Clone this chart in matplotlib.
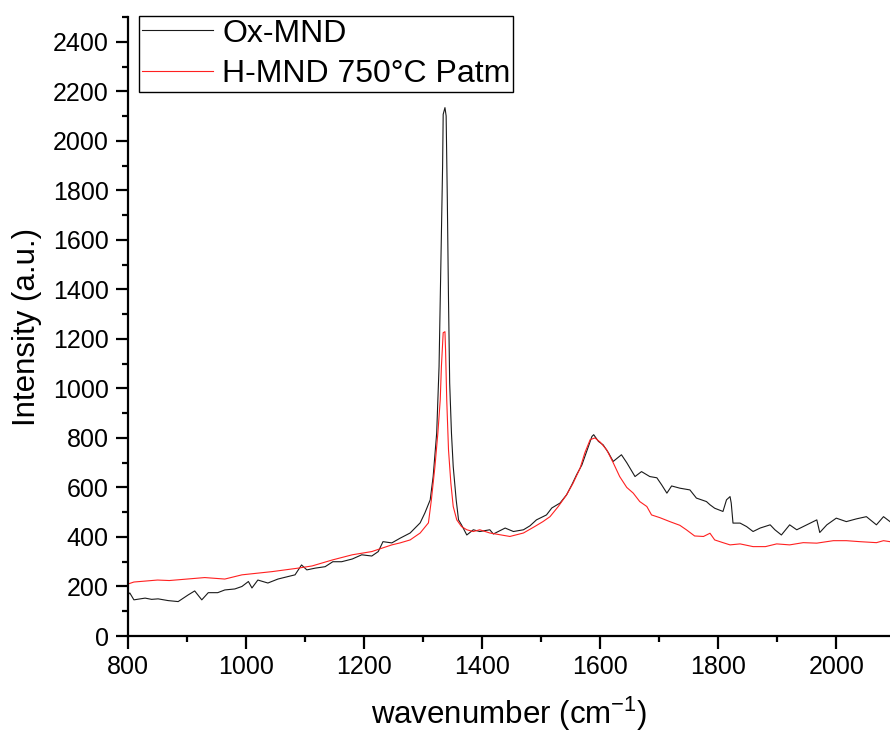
import matplotlib
matplotlib.use("Agg")
import matplotlib.pyplot as plt
from matplotlib.ticker import MultipleLocator

plt.rcParams['font.family'] = ['Liberation Sans', 'DejaVu Sans']
plt.rcParams['mathtext.fontset'] = 'custom'
plt.rcParams['mathtext.rm'] = 'Liberation Sans'
plt.rcParams['mathtext.it'] = 'Liberation Sans:italic'

# Ox-MND spectrum (wavenumber, intensity)
ox_w = [800, 803, 810, 829, 840, 851, 868, 885, 902, 913, 925, 936, 952, 964, 981, 993,
        1004, 1010, 1020, 1037, 1054, 1071, 1083, 1094, 1103, 1117, 1134, 1147, 1162, 1180,
        1196, 1213, 1224, 1232, 1247, 1261, 1278, 1295, 1303, 1312, 1317, 1323, 1327, 1330,
        1333, 1334, 1337, 1339, 1341, 1343, 1345, 1348, 1351, 1356, 1360, 1365, 1374, 1385,
        1396, 1413, 1419, 1439, 1453, 1470, 1481, 1492, 1509, 1518, 1532, 1543, 1552, 1560,
        1569, 1577, 1586, 1589, 1597, 1605, 1614, 1622, 1636, 1645, 1659, 1670, 1684, 1696,
        1704, 1713, 1721, 1735, 1752, 1763, 1780, 1786, 1794, 1808, 1814, 1820, 1822, 1825,
        1837, 1848, 1859, 1871, 1888, 1896, 1907, 1921, 1933, 1950, 1967, 1972, 1984, 2000,
        2017, 2034, 2051, 2068, 2080, 2091]
ox_i = [166, 174, 146, 153, 148, 150, 143, 139, 166, 182, 146, 175, 175, 186, 190, 200,
        220, 194, 226, 214, 230, 240, 247, 287, 267, 274, 280, 300, 300, 311,
        328, 323, 341, 381, 376, 395, 416, 457, 497, 550, 644, 820, 1089, 1493,
        1897, 2107, 2134, 2100, 1763, 1359, 1022, 820, 684, 550, 469, 449, 408, 429,
        422, 429, 412, 436, 422, 429, 445, 469, 489, 517, 537, 570, 611, 651,
        691, 745, 806, 813, 786, 772, 740, 705, 732, 700, 644, 664, 644, 639,
        611, 577, 606, 597, 590, 557, 543, 530, 516, 503, 550, 563, 537, 456,
        456, 442, 422, 436, 449, 429, 408, 449, 429, 449, 469, 418, 449, 476,
        462, 473, 482, 449, 482, 462]

# H-MND 750°C Patm spectrum
h_w = [800, 810, 830, 850, 870, 900, 930, 964, 993, 1044, 1088, 1112, 1146, 1180, 1213,
       1247, 1261, 1278, 1295, 1309, 1314, 1320, 1325, 1329, 1331, 1334, 1337, 1338, 1340,
       1343, 1347, 1351, 1357, 1365, 1374, 1385, 1396, 1413, 1447, 1470, 1489, 1503, 1515,
       1529, 1543, 1554, 1566, 1574, 1583, 1591, 1600, 1611, 1622, 1633, 1645, 1656, 1667,
       1679, 1687, 1701, 1718, 1735, 1746, 1760, 1775, 1786, 1794, 1808, 1820, 1837, 1859,
       1880, 1899, 1921, 1944, 1967, 1995, 2017, 2040, 2068, 2080, 2091]
h_i = [210, 218, 222, 226, 224, 230, 236, 230, 247, 260, 274, 283, 307, 328, 341,
       368, 376, 388, 416, 457, 550, 684, 820, 954, 1089, 1225, 1229, 1156, 954,
       752, 617, 523, 469, 442, 429, 422, 429, 416, 402, 416, 442, 462, 482,
       523, 570, 617, 678, 740, 793, 800, 783, 752, 700, 644, 600, 577, 543,
       523, 489, 478, 462, 447, 429, 404, 402, 415, 388, 377, 368, 372, 361,
       361, 372, 368, 377, 375, 385, 385, 381, 377, 385, 381]

labels = ["Ox-MND", "H-MND 750°C Patm"]

fig = plt.figure(figsize=(8.9, 7.35), dpi=100)
ax = fig.add_axes([128/890, 1-636/735, 1-128/890, (636-17)/735])
ax.plot(ox_w, ox_i, color='#1a1a1a', lw=0.8, label=labels[0])
ax.plot(h_w, h_i, color='#ff2020', lw=0.8, label=labels[1])

ax.set_xlim(800, 2091)
ax.set_ylim(0, 2500)
ax.xaxis.set_major_locator(MultipleLocator(200))
ax.xaxis.set_minor_locator(MultipleLocator(100))
ax.yaxis.set_major_locator(MultipleLocator(200))
ax.yaxis.set_minor_locator(MultipleLocator(100))
for s in ['top', 'right']:
    ax.spines[s].set_visible(False)
for s in ['left', 'bottom']:
    ax.spines[s].set_linewidth(1.6)
ax.tick_params(which='major', direction='out', length=9, width=1.6, labelsize=18, pad=5)
ax.tick_params(which='minor', direction='out', length=4.5, width=1.6)

ax.set_xlabel("wavenumber (cm$^{-1}$)", fontsize=22.5, labelpad=11)
ax.set_ylabel("Intensity (a.u.)", fontsize=22.5, labelpad=8)

leg = ax.legend(loc='upper left', bbox_to_anchor=(139/890, 1-16/735),
                bbox_transform=fig.transFigure, borderaxespad=0, fontsize=23,
                frameon=True, fancybox=False, edgecolor='black', framealpha=1,
                handlelength=2.25, handletextpad=0.28, borderpad=0.08,
                labelspacing=0.33)
leg.get_frame().set_linewidth(1.0)

fig.savefig("out.png", dpi=100)
